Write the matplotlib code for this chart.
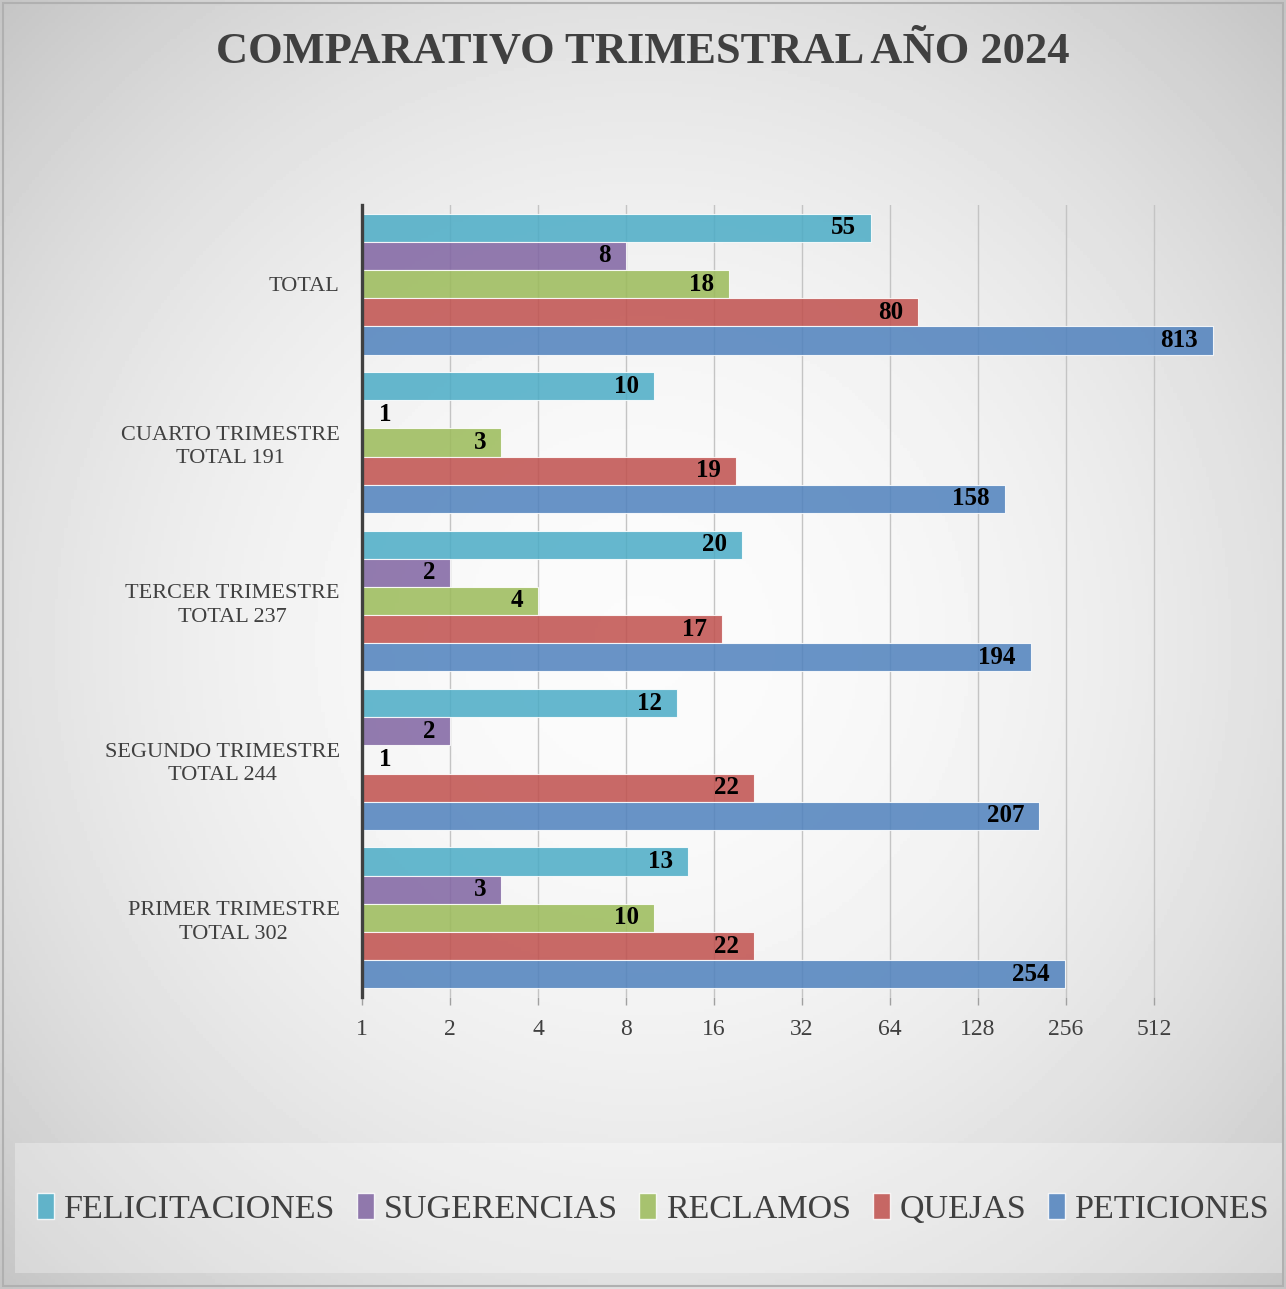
import numpy as np
import matplotlib.pyplot as plt
from matplotlib.patches import Rectangle, Patch

# data (bottom to top on the chart)
categorias = ['PRIMER TRIMESTRE\nTOTAL 302', 'SEGUNDO TRIMESTRE\nTOTAL 244',
              'TERCER TRIMESTRE\nTOTAL 237', 'CUARTO TRIMESTRE\nTOTAL 191', 'TOTAL']
felicitaciones = [13, 12, 20, 10, 55]
sugerencias = [3, 2, 2, 1, 8]
reclamos = [10, 1, 4, 3, 18]
quejas = [22, 22, 17, 19, 80]
peticiones = [254, 207, 194, 158, 813]
ticks = [1, 2, 4, 8, 16, 32, 64, 128, 256, 512]

series = [('FELICITACIONES', felicitaciones, '#4BACC6'),
          ('SUGERENCIAS', sugerencias, '#8064A2'),
          ('RECLAMOS', reclamos, '#9BBB59'),
          ('QUEJAS', quejas, '#C0504D'),
          ('PETICIONES', peticiones, '#4F81BD')]

plt.rcParams['font.family'] = ['Liberation Serif', 'DejaVu Serif']

fig = plt.figure(figsize=(12.86, 12.89), dpi=100)

# radial gradient background
bg = fig.add_axes([0, 0, 1, 1], zorder=-10)
yy, xx = np.mgrid[0:1:400j, 0:1:400j]
r = np.sqrt((xx - 0.5) ** 2 + (yy - 0.5) ** 2) / np.sqrt(0.5)
shade = 0.985 - 0.215 * r ** 2
bg.imshow(shade, cmap='gray', vmin=0, vmax=1, extent=[0, 1, 0, 1], aspect='auto')
bg.axis('off')
fig.patches.append(Rectangle((0.002, 0.002), 0.996, 0.996, transform=fig.transFigure,
                             fill=False, edgecolor='#b0b0b0', linewidth=1.5))

ax = fig.add_axes([0.2815, 0.2265, 0.6843, 0.6145])
ax.patch.set_alpha(0)
ax.set_xscale('log', base=2)
ax.set_xlim(1, 1024)

y = np.arange(len(categorias))
h = 0.178
for k, (name, vals, color) in enumerate(series):
    pos = y + (2 - k) * h
    widths = [v - 1 for v in vals]
    ax.barh(pos, widths, left=1, height=h, color=color, alpha=0.85,
            edgecolor='white', linewidth=0.8, label=name)
    for p, v in zip(pos, vals):
        if v == 1:
            ax.annotate(str(v), (v, p), xytext=(17, 0), textcoords='offset pixels',
                        ha='left', va='center', fontsize=18, fontweight='bold')
        else:
            ax.annotate(str(v), (v, p), xytext=(-15, 0), textcoords='offset pixels',
                        ha='right', va='center', fontsize=18, fontweight='bold')

ax.set_ylim(-0.5, len(categorias) - 0.5)
ax.set_yticks(y)
ax.set_yticklabels(categorias, fontsize=16, color='#404040', linespacing=1.3,
                   multialignment='center')
ax.tick_params(axis='y', length=0, pad=16)

ax.xaxis.set_major_locator(plt.FixedLocator(ticks))
ax.xaxis.set_minor_locator(plt.NullLocator())
ax.set_xticklabels([str(t) for t in ticks], fontsize=17, color='#404040')
ax.tick_params(axis='x', direction='out', length=6, width=1, color='#a0a0a0', pad=10)

ax.set_axisbelow(True)
ax.grid(axis='x', color='#c4c4c4', linewidth=1)
for s in ['top', 'right', 'bottom']:
    ax.spines[s].set_visible(False)
ax.spines['left'].set_color('#404040')
ax.spines['left'].set_linewidth(2.4)

fig.text(0.5, 0.960, 'COMPARATIVO TRIMESTRAL AÑO 2024', ha='center', va='center',
         fontsize=32, fontweight='bold', color='#404040')

# legend box
fig.patches.append(Rectangle((0.0117, 0.0124), 0.985, 0.101, transform=fig.transFigure,
                             facecolor='white', alpha=0.3, edgecolor='none'))
handles = [Patch(facecolor=c, alpha=0.85, edgecolor='white', label=n) for n, v, c in series]
fig.legend(handles=handles, loc='center', bbox_to_anchor=(0.508, 0.062), ncol=5,
           frameon=False, fontsize=24.5, labelcolor='#404040', handlelength=0.5,
           handleheight=0.8, handletextpad=0.3, columnspacing=0.62)

fig.savefig('out.png', dpi=100)
